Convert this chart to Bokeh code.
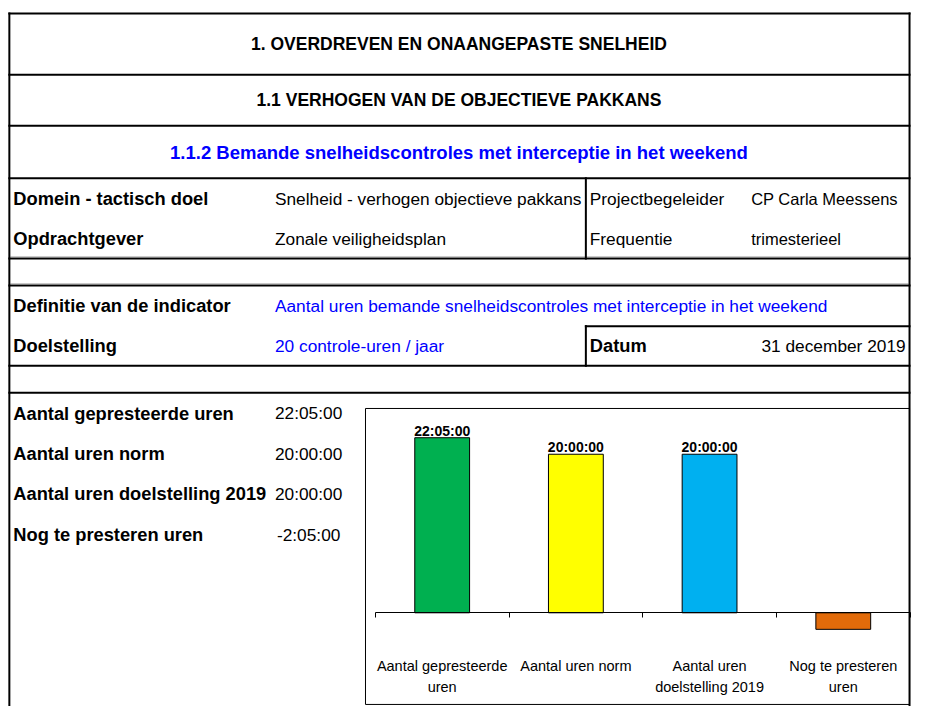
from bokeh.plotting import figure
from bokeh.models import Range1d, LinearAxis, FixedTicker
from bokeh.core.properties import value
from bokeh.embed import file_html
from bokeh.resources import INLINE

# ---------------- data ----------------
titles = ["1. OVERDREVEN EN ONAANGEPASTE SNELHEID",
          "1.1 VERHOGEN VAN DE OBJECTIEVE PAKKANS",
          "1.1.2 Bemande snelheidscontroles met interceptie in het weekend"]
info_labels = ["Domein - tactisch doel", "Opdrachtgever",
               "Definitie van de indicator", "Doelstelling"]
info_values = ["Snelheid - verhogen objectieve pakkans", "Zonale veiligheidsplan",
               "Aantal uren bemande snelheidscontroles met interceptie in het weekend",
               "20 controle-uren / jaar"]
side_labels = ["Projectbegeleider", "Frequentie"]
side_values = ["CP Carla Meessens", "trimesterieel"]
date_label = "Datum"
date_value = "31 december 2019"

categories = ["Aantal gepresteerde uren", "Aantal uren norm",
              "Aantal uren doelstelling 2019", "Nog te presteren uren"]
axis_labels = ["Aantal gepresteerde\nuren", "Aantal uren norm",
               "Aantal uren\ndoelstelling 2019", "Nog te presteren\nuren"]
durations = ["22:05:00", "20:00:00", "20:00:00", "-2:05:00"]
bar_colors = ["#00B050", "#FFFF00", "#00B0F0", "#E26B0A"]


def to_hours(s):
    neg = s.startswith("-")
    h, m, sec = (int(v) for v in s.lstrip("-").split(":"))
    t = h + m / 60 + sec / 3600
    return -t if neg else t


hours = [to_hours(s) for s in durations]
centers = [i + 0.5 for i in range(len(categories))]

# ---------------- layout calibration ----------------
FONT = value("Liberation Sans")
X_L, X_R = 0, 926
Y_TOP, Y_BOT = -0.3, 720.1
ZERO_Y, PX_PER_H = 624.5, 8.09
CAT_X0, CAT_W = 381.0, 135.9

p = figure(width=911, height=706,
           x_range=Range1d(X_L, X_R), y_range=Range1d(Y_BOT, Y_TOP),
           output_backend="svg", toolbar_location=None,
           x_axis_type=None, y_axis_type=None, min_border=0,
           outline_line_color=None, background_fill_color="white",
           border_fill_color="white")
p.extra_x_ranges = {"cat": Range1d((X_L - CAT_X0) / CAT_W, (X_R - CAT_X0) / CAT_W)}
p.extra_y_ranges = {"hrs": Range1d((ZERO_Y - Y_BOT) / PX_PER_H, (ZERO_Y - Y_TOP) / PX_PER_H)}

# ---------------- chart box ----------------
p.quad(left=[371], right=[924], top=[416], bottom=[718],
       fill_color=None, line_color="black", line_width=1)

# ---------------- bars ----------------
p.vbar(x=centers, width=0.41, top=hours, bottom=0,
       fill_color=bar_colors, line_color="black", line_width=1,
       x_range_name="cat", y_range_name="hrs")

pos = [i for i, h in enumerate(hours) if h > 0]
p.text(x=[centers[i] for i in pos], y=[hours[i] for i in pos],
       text=[durations[i] for i in pos],
       x_range_name="cat", y_range_name="hrs",
       text_align="center", text_baseline="alphabetic", y_offset=-7,
       text_font=FONT, text_font_size="14px", text_font_style="bold",
       text_color="black")

# axis with boundary ticks
ax_ticks = LinearAxis(x_range_name="cat", y_range_name="hrs", fixed_location=0,
                      ticker=FixedTicker(ticks=list(range(len(categories) + 1))),
                      bounds=(0, len(categories)),
                      major_tick_out=5, major_tick_in=0,
                      minor_tick_out=0, minor_tick_in=0,
                      axis_line_color="black", axis_line_width=1,
                      major_tick_line_color="black",
                      major_label_text_color=None)
p.add_layout(ax_ticks, "below")

overrides = {}
for c, lab in zip(centers, axis_labels):
    overrides[c] = lab
    overrides[str(c)] = lab
ax_labels = LinearAxis(x_range_name="cat", y_range_name="hrs", fixed_location=0,
                       ticker=FixedTicker(ticks=centers),
                       major_label_overrides=overrides,
                       axis_line_color=None, major_tick_line_color=None,
                       minor_tick_line_color=None,
                       major_tick_out=0, major_tick_in=0,
                       major_label_standoff=45,
                       major_label_text_font="Liberation Sans",
                       major_label_text_font_size="14.5px",
                       major_label_text_line_height=1.3,
                       major_label_text_color="black")
p.add_layout(ax_labels, "below")

# ---------------- table texts ----------------
p.text(x=[466, 466], y=[44, 101], text=titles[:2], text_align="center",
       text_baseline="middle", text_font=FONT, text_font_size="17.5px",
       text_font_style="bold", text_color="black")
p.text(x=[466], y=[155], text=[titles[2]], text_align="center",
       text_baseline="middle", text_font=FONT, text_font_size="18.5px",
       text_font_style="bold", text_color="#0000FF")

row_y = [202, 243, 311, 352]
p.text(x=[13] * 4, y=row_y, text=info_labels, text_align="left",
       text_baseline="middle", text_font=FONT, text_font_size="18.3px",
       text_font_style="bold", text_color="black")
p.text(x=[279] * 4, y=row_y, text=info_values, text_align="left",
       text_baseline="middle", text_font=FONT, text_font_size="17.3px",
       text_color=["black", "black", "#0000FF", "#0000FF"])
p.text(x=[599, 599], y=row_y[:2], text=side_labels, text_align="left",
       text_baseline="middle", text_font=FONT, text_font_size="17.3px",
       text_color="black")
p.text(x=[763, 763], y=row_y[:2], text=side_values, text_align="left",
       text_baseline="middle", text_font=FONT, text_font_size="16.5px",
       text_color="black")
p.text(x=[599], y=[352], text=[date_label], text_align="left",
       text_baseline="middle", text_font=FONT, text_font_size="18.3px",
       text_font_style="bold", text_color="black")
p.text(x=[920], y=[352], text=[date_value], text_align="right",
       text_baseline="middle", text_font=FONT, text_font_size="17.3px",
       text_color="black")

low_y = [421, 462, 503, 545]
p.text(x=[13] * 4, y=low_y, text=categories, text_align="left",
       text_baseline="middle", text_font=FONT, text_font_size="18.3px",
       text_font_style="bold", text_color="black")
p.text(x=[279, 279, 279, 281], y=low_y, text=durations, text_align="left",
       text_baseline="middle", text_font=FONT, text_font_size="17.3px",
       text_color="black")

# ---------------- table lines ----------------
L, R, T, B = 9, 924, 13, 730
p.segment(x0=[10, 10], y0=[261, 288.5], x1=[923, 923], y1=[261, 288.5],
          line_color="#C8C8C8", line_width=1)
hx = [75.5, 127.5, 181, 263, 290.5, 372.5, 400]
x0 = [L, L, R] + [L] * len(hx) + [595, 595, 595]
y0 = [T, T, T] + hx + [181, 332, 332]
x1 = [R, L, R] + [R] * len(hx) + [595, 595, R]
y1 = [T, B, B] + hx + [263, 372.5, 332]
p.segment(x0=x0, y0=y0, x1=x1, y1=y1, line_color="black", line_width=2,
          line_cap="square")

open("out.html", "w").write(file_html(p, INLINE))
